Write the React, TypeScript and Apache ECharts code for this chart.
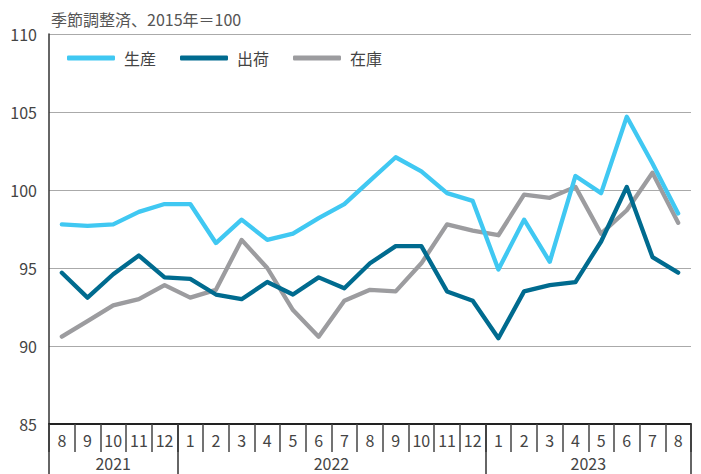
import React, { useEffect, useRef } from "react";
import * as echarts from "echarts";

const months = ["8","9","10","11","12","1","2","3","4","5","6","7","8","9","10","11","12","1","2","3","4","5","6","7","8"];
const years = ["2021", "2022", "2023"];
const monthsPerYear = [5, 12, 8];
const seriesNames = ["生産", "出荷", "在庫"];
const production = [97.8, 97.7, 97.8, 98.6, 99.1, 99.1, 96.6, 98.1, 96.8, 97.2, 98.2, 99.1, 100.6, 102.1, 101.2, 99.8, 99.3, 94.9, 98.1, 95.4, 100.9, 99.8, 104.7, 101.7, 98.5];
const shipments = [94.7, 93.1, 94.6, 95.8, 94.4, 94.3, 93.3, 93.0, 94.1, 93.3, 94.4, 93.7, 95.3, 96.4, 96.4, 93.5, 92.9, 90.5, 93.5, 93.9, 94.1, 96.7, 100.2, 95.7, 94.7];
const inventory = [90.6, 91.6, 92.6, 93.0, 93.9, 93.1, 93.6, 96.8, 95.0, 92.3, 90.6, 92.9, 93.6, 93.5, 95.3, 97.8, 97.4, 97.1, 99.7, 99.5, 100.2, 97.2, 98.7, 101.1, 97.9];
const title = "季節調整済、2015年＝100";

const colors = ["#40c8f2", "#006b8f", "#9c9c9f"];
const FONT = "'Noto Sans CJK JP', 'Noto Sans', sans-serif";

export default function App() {
  const ref = useRef<HTMLDivElement>(null);
  useEffect(() => {
    if (!ref.current) return;
    const chart = echarts.init(ref.current, null, { renderer: "svg" });
    const boundaries: number[] = [0];
    const centers: number[] = [];
    monthsPerYear.forEach((n) => {
      const start = boundaries[boundaries.length - 1];
      centers.push(start + n / 2);
      boundaries.push(start + n);
    });
    const yearByCenter: Record<string, string> = {};
    centers.forEach((c, i) => (yearByCenter[String(c)] = years[i]));
    const datasets = [production, shipments, inventory];
    chart.setOption({
      animation: false,
      textStyle: { fontFamily: FONT },
      grid: { left: 49, right: 10, top: 34, bottom: 50, containLabel: false },
      title: {
        text: title,
        left: 46,
        top: 6,
        textStyle: { fontSize: 16, fontWeight: "normal", color: "#555", fontFamily: FONT },
      },
      legend: {
        left: 62,
        top: 45,
        icon: "roundRect",
        itemWidth: 48,
        itemHeight: 5,
        itemGap: 24,
        textStyle: { fontSize: 16, color: "#444", fontFamily: FONT, padding: [0, 0, 0, 4] },
        data: seriesNames,
      },
      xAxis: [
        {
          type: "category",
          data: months,
          boundaryGap: true,
          position: "bottom",
          axisLine: { show: true, lineStyle: { color: "#222", width: 2 } },
          axisTick: { show: true, interval: 0, length: 28, lineStyle: { color: "#444", width: 1.5 } },
          axisLabel: { interval: 0, fontSize: 16, color: "#444", margin: 8, fontFamily: FONT },
          splitLine: { show: false },
        },
        {
          type: "value",
          min: 0,
          max: months.length,
          position: "bottom",
          axisLine: { show: false },
          splitLine: { show: false },
          axisTick: { show: true, customValues: boundaries, length: 52, lineStyle: { color: "#333", width: 1.5 } },
          axisLabel: {
            show: true,
            customValues: centers,
            margin: 31,
            fontSize: 16,
            color: "#444",
            fontFamily: FONT,
            formatter: (v: number) => yearByCenter[String(v)] || "",
          },
        },
      ],
      yAxis: {
        type: "value",
        min: 85,
        max: 110,
        interval: 5,
        axisLine: { show: true, lineStyle: { color: "#333", width: 1.5 } },
        axisTick: { show: false },
        axisLabel: { fontSize: 16, color: "#444", margin: 12, fontFamily: FONT },
        splitLine: { show: true, lineStyle: { color: "#aaa", width: 1 } },
      },
      series: seriesNames.map((name, i) => ({
        name,
        type: "line",
        xAxisIndex: 0,
        data: datasets[i],
        symbol: "none",
        color: colors[i],
        lineStyle: { width: 4.3, color: colors[i], cap: "round", join: "round" },
        z: i === 0 ? 3 : i === 1 ? 4 : 2,
      })),
    });
    return () => chart.dispose();
  }, []);
  return <div ref={ref} style={{ width: 701, height: 474, position: "absolute", left: 0, top: 0 }} />;
}
